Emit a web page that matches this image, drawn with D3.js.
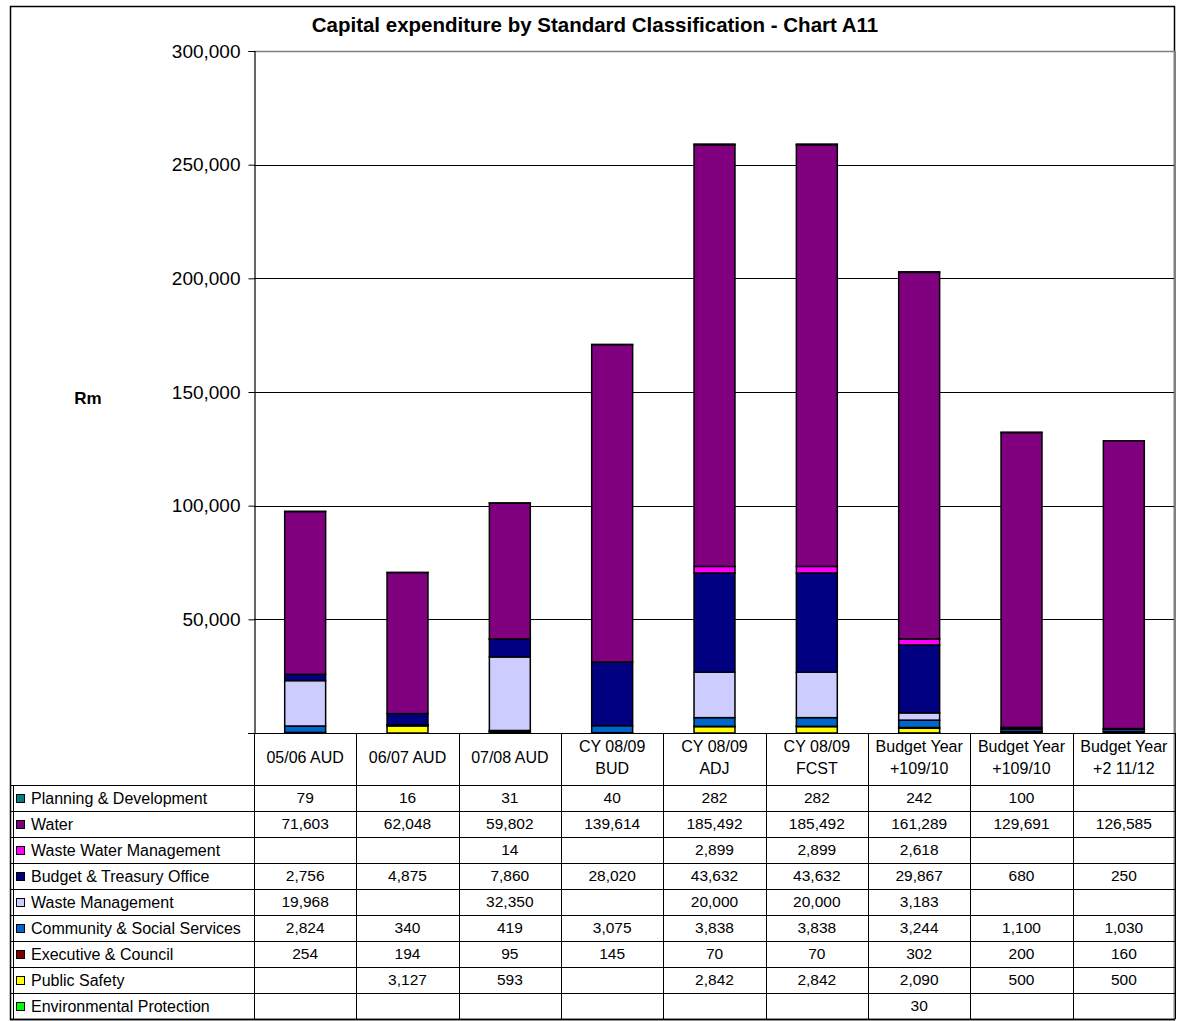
<!DOCTYPE html>
<html>
<head>
<meta charset="utf-8">
<script src="https://cdn.jsdelivr.net/npm/d3@7"></script>
<style>
html,body{margin:0;padding:0;background:#fff;}
svg{display:block;font-family:"Liberation Sans",Arial,sans-serif;}
</style>
</head>
<body>
<svg id="chart" width="1181" height="1021"></svg>
<script>
// ---- DATA ----
const categories = ["05/06 AUD", "06/07 AUD", "07/08 AUD", "CY 08/09|BUD", "CY  08/09|ADJ", "CY 08/09|FCST", "Budget Year|+109/10", "Budget Year|+109/10", "Budget Year|+2 11/12"];
const seriesNames = ["Planning & Development", "Water", "Waste Water Management", "Budget & Treasury Office", "Waste Management", "Community & Social Services", "Executive & Council", "Public Safety", "Environmental Protection"];
const planning = [79, 16, 31, 40, 282, 282, 242, 100, null];
const water = [71603, 62048, 59802, 139614, 185492, 185492, 161289, 129691, 126585];
const wasteWater = [null, null, 14, null, 2899, 2899, 2618, null, null];
const budgetTreasury = [2756, 4875, 7860, 28020, 43632, 43632, 29867, 680, 250];
const wasteMgmt = [19968, null, 32350, null, 20000, 20000, 3183, null, null];
const community = [2824, 340, 419, 3075, 3838, 3838, 3244, 1100, 1030];
const executive = [254, 194, 95, 145, 70, 70, 302, 200, 160];
const publicSafety = [null, 3127, 593, null, 2842, 2842, 2090, 500, 500];
const environmental = [null, null, null, null, null, null, 30, null, null];
const yTicks = [50000, 100000, 150000, 200000, 250000, 300000];
const colors = ["#008080", "#800080", "#FF00FF", "#000080", "#CCCCFF", "#0066CC", "#800000", "#FFFF00", "#00FF00"];

const seriesValues = [planning, water, wasteWater, budgetTreasury, wasteMgmt, community, executive, publicSafety, environmental];

(function () {
// ---- LAYOUT ----
const svg = d3.select("#chart");
const pLeft = 254, pRight = 1175, pTop = 51, pBottom = 733;
const tableLeft = 10, headerBottom = 785, rowH = 26;

const x = d3.scaleBand().domain(d3.range(categories.length)).range([pLeft, pRight]).paddingInner(0.6).paddingOuter(0.3);
const y = d3.scaleLinear().domain([0, 300000]).range([pBottom, pTop]);

// outer border
svg.append("rect").attr("x", 10.5).attr("y", 6.5).attr("width", 1164).attr("height", 1013)
  .attr("fill", "#fff").attr("stroke", "#000").attr("stroke-width", 1.5);

// title
svg.append("text").attr("x", 595).attr("y", 32).attr("text-anchor", "middle")
  .attr("font-size", 20.5).attr("font-weight", "bold")
  .text("Capital expenditure by Standard Classification - Chart A11");

// y label
svg.append("text").attr("x", 88).attr("y", 404).attr("text-anchor", "middle")
  .attr("font-size", 17).attr("font-weight", "bold").text("Rm");

// gridlines
svg.append("g").selectAll("line").data(yTicks).join("line")
  .attr("x1", pLeft).attr("x2", pRight)
  .attr("y1", d => Math.round(y(d)) + 0.5).attr("y2", d => Math.round(y(d)) + 0.5)
  .attr("stroke", "#000").attr("stroke-width", 1);

// plot area top/right border (gray)
svg.append("line").attr("x1", pLeft).attr("x2", pRight).attr("y1", pTop + 0.5).attr("y2", pTop + 0.5)
  .attr("stroke", "#808080").attr("stroke-width", 1.5);
svg.append("line").attr("x1", pRight).attr("x2", pRight).attr("y1", pTop).attr("y2", 1019)
  .attr("stroke", "#808080").attr("stroke-width", 2);

// y axis
const yAxis = d3.axisLeft(y).tickValues(yTicks).tickSize(6).tickPadding(8).tickFormat(d3.format(","));
const ag = svg.append("g").attr("transform", `translate(${pLeft + 0.5},0)`).call(yAxis);
ag.select(".domain").attr("stroke", "#000").attr("stroke-width", 1.2);
ag.selectAll(".tick line").attr("stroke", "#000");
ag.selectAll(".tick text").attr("font-size", 19).attr("fill", "#000")
  .attr("font-family", "'Liberation Sans', Arial, sans-serif");

// stacked bars: bottom to top is reverse of series order
const stackOrder = d3.range(seriesNames.length).reverse();
const barG = svg.append("g");
categories.forEach((c, i) => {
  let cum = 0;
  stackOrder.forEach(s => {
    const v = seriesValues[s][i];
    if (!v) return;
    const y0 = y(cum), y1 = y(cum + v);
    cum += v;
    barG.append("rect")
      .attr("x", x(i)).attr("width", x.bandwidth())
      .attr("y", y1).attr("height", Math.max(0, y0 - y1))
      .attr("fill", colors[s]).attr("stroke", "#000").attr("stroke-width", 1.5);
  });
});

// ---- TABLE ----
const tg = svg.append("g");
const tableBottom = headerBottom + rowH * seriesNames.length;
tg.append("line").attr("x1", pLeft - 6).attr("x2", pRight).attr("y1", pBottom + 0.5).attr("y2", pBottom + 0.5)
  .attr("stroke", "#000").attr("stroke-width", 1.2);
const rowLines = d3.range(seriesNames.length).map(k => headerBottom + rowH * k);
tg.selectAll("line.row").data(rowLines).join("line").attr("class", "row")
  .attr("x1", tableLeft).attr("x2", pRight)
  .attr("y1", d => d + 0.5).attr("y2", d => d + 0.5)
  .attr("stroke", "#000").attr("stroke-width", 1);
const colEdges = d3.range(categories.length + 1).map(i => pLeft + x.step() * i);
tg.selectAll("line.col").data(colEdges).join("line").attr("class", "col")
  .attr("x1", d => Math.round(d) + 0.5).attr("x2", d => Math.round(d) + 0.5)
  .attr("y1", pBottom).attr("y2", tableBottom)
  .attr("stroke", "#000").attr("stroke-width", 1);
tg.append("line").attr("x1", 13.5).attr("x2", 13.5).attr("y1", headerBottom).attr("y2", tableBottom)
  .attr("stroke", "#000").attr("stroke-width", 1);
tg.append("line").attr("x1", tableLeft).attr("x2", pRight).attr("y1", tableBottom + 0.5).attr("y2", tableBottom + 0.5)
  .attr("stroke", "#000").attr("stroke-width", 1.5);

categories.forEach((c, i) => {
  const lines = c.split("|");
  const cx = x(i) + x.bandwidth() / 2;
  const t = tg.append("text").attr("text-anchor", "middle").attr("font-size", 16);
  if (lines.length === 1) {
    t.append("tspan").attr("x", cx).attr("y", 763).text(lines[0]);
  } else {
    lines.forEach((l, k) => t.append("tspan").attr("x", cx).attr("y", 752 + k * 22).text(l));
  }
});

seriesNames.forEach((name, s) => {
  const ry = headerBottom + rowH * s;
  tg.append("rect").attr("x", 16.5).attr("y", ry + 9.5).attr("width", 8).attr("height", 8)
    .attr("fill", colors[s]).attr("stroke", "#000").attr("stroke-width", 1);
  tg.append("text").attr("x", 31).attr("y", ry + 19).attr("font-size", 16).text(name);
  seriesValues[s].forEach((v, i) => {
    if (v == null) return;
    tg.append("text").attr("x", x(i) + x.bandwidth() / 2).attr("y", ry + 18)
      .attr("text-anchor", "middle").attr("font-size", 15.5).text(d3.format(",")(v));
  });
});
})();
</script>
</body>
</html>
